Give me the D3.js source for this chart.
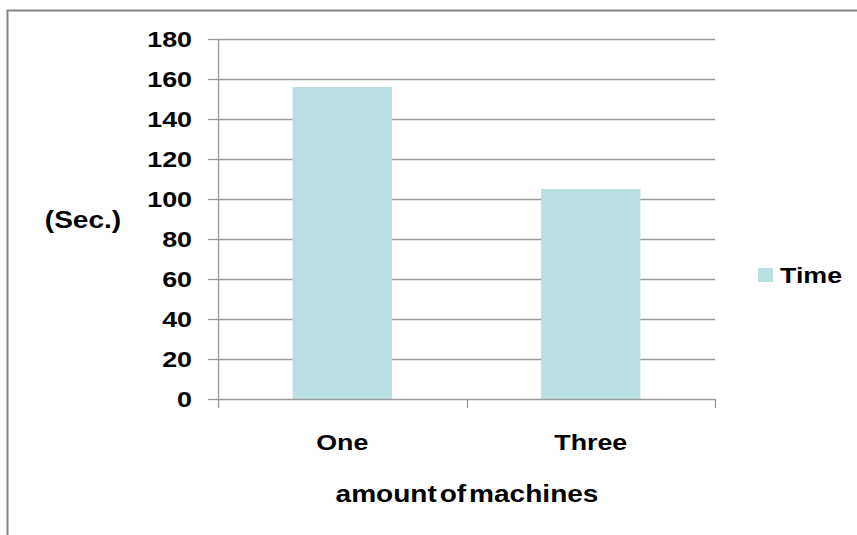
<!DOCTYPE html>
<html>
<head>
<meta charset="utf-8">
<script src="https://cdn.jsdelivr.net/npm/d3@7"></script>
<style>
  html, body { margin: 0; padding: 0; background: #fff; }
  svg { display: block; }
  text { font-family: "Liberation Sans", Arial, sans-serif; font-weight: bold; fill: #000; }
</style>
</head>
<body>
<svg id="chart" width="857" height="535"></svg>
<script>
// Chart data
const categories = ["One", "Three"];
const timeValues = [156, 105];
const yTicks = [0, 20, 40, 60, 80, 100, 120, 140, 160, 180];
const seriesName = "Time";
const yTitle = "(Sec.)";
const xTitle = "amount of machines";

const W = 857, H = 535;
const plot = { left: 218, right: 715, top: 39, bottom: 399 };
const gridColor = "#9a9a9a";
const barColor = "#b9dfe3";
const textScale = 1.22; // text is drawn horizontally stretched
const fontSize = 22;

const svg = d3.select("#chart");

// Outer chart frame (left and top edges)
svg.append("path")
  .attr("d", `M7.5,${H} V10.5 H${W}`)
  .attr("fill", "none")
  .attr("stroke", "#858585")
  .attr("stroke-width", 2);

const x = d3.scaleBand().domain(categories).range([plot.left, plot.right]).padding(0);
const y = d3.scaleLinear().domain([0, 180]).range([plot.bottom, plot.top]);

// Horizontal gridlines
svg.append("g").selectAll("line")
  .data(yTicks.filter(t => t > 0))
  .join("line")
  .attr("x1", plot.left).attr("x2", plot.right)
  .attr("y1", d => Math.round(y(d)) + 0.5).attr("y2", d => Math.round(y(d)) + 0.5)
  .attr("stroke", gridColor).attr("stroke-width", 1.3);

// Bars
const barW = x.bandwidth() * 0.4;
svg.append("g").selectAll("rect")
  .data(categories.map((c, i) => ({ c, v: timeValues[i] })))
  .join("rect")
  .attr("x", d => x(d.c) + (x.bandwidth() - barW) / 2)
  .attr("width", barW)
  .attr("y", d => y(d.v))
  .attr("height", d => y(0) - y(d.v))
  .attr("fill", barColor);

// Y axis line and ticks
svg.append("line")
  .attr("x1", plot.left + 0.5).attr("x2", plot.left + 0.5)
  .attr("y1", plot.top).attr("y2", plot.bottom)
  .attr("stroke", gridColor).attr("stroke-width", 1.3);
svg.append("g").selectAll("line")
  .data(yTicks)
  .join("line")
  .attr("x1", plot.left - 10).attr("x2", plot.left)
  .attr("y1", d => Math.round(y(d)) + 0.5).attr("y2", d => Math.round(y(d)) + 0.5)
  .attr("stroke", gridColor).attr("stroke-width", 1.3);

// X axis line and category ticks
svg.append("line")
  .attr("x1", plot.left).attr("x2", plot.right)
  .attr("y1", Math.round(y(0)) + 0.5).attr("y2", Math.round(y(0)) + 0.5)
  .attr("stroke", gridColor).attr("stroke-width", 1.3);
const xBounds = categories.map(c => x(c)).concat([plot.right]);
svg.append("g").selectAll("line")
  .data(xBounds)
  .join("line")
  .attr("x1", d => Math.round(d) + 0.5).attr("x2", d => Math.round(d) + 0.5)
  .attr("y1", plot.bottom).attr("y2", plot.bottom + 9)
  .attr("stroke", gridColor).attr("stroke-width", 1.3);

function label(px, py, str, anchor, size) {
  return svg.append("text")
    .attr("transform", `translate(${px},${py}) scale(${textScale},1)`)
    .attr("text-anchor", anchor)
    .attr("font-size", size || fontSize)
    .text(str);
}

// Y tick labels
yTicks.forEach(t => label(192, y(t) + 8, t, "end"));

// Category labels
categories.forEach(c => label(x(c) + x.bandwidth() / 2, 450, c, "middle"));

// Axis titles
label(83, 228, yTitle, "middle", 23);
label(467, 502, xTitle, "middle", 23).attr("word-spacing", -4);

// Legend
svg.append("rect")
  .attr("x", 758).attr("y", 268).attr("width", 15).attr("height", 14)
  .attr("fill", barColor);
label(780, 283, seriesName, "start");
</script>
</body>
</html>
